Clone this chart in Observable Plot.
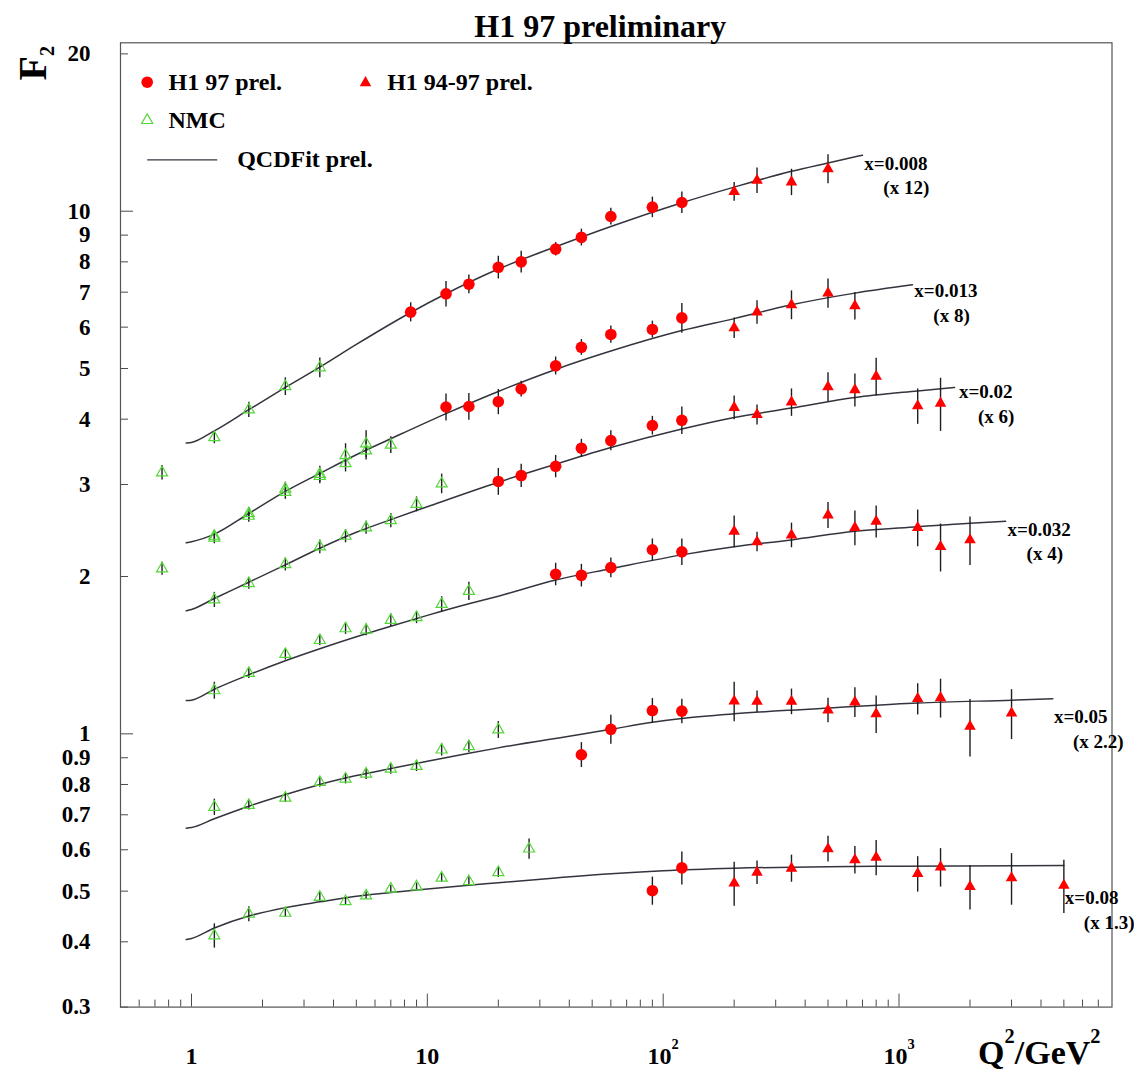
<!DOCTYPE html>
<html>
<head>
<meta charset="utf-8">
<script src="https://cdn.jsdelivr.net/npm/d3@7"></script>
<script src="https://cdn.jsdelivr.net/npm/@observablehq/plot@0.6"></script>
<style>
  html, body { margin: 0; padding: 0; background: #fff; }
  #chart { width: 1134px; height: 1071px; }
</style>
</head>
<body>
<div id="chart"></div>
<script>
// Bjorken-x bins and the factor each bin's F2 is multiplied by for display
const binX = ["0.008", "0.013", "0.02", "0.032", "0.05", "0.08"];
const binFactor = ["12", "8", "6", "4", "2.2", "1.3"];
// where each bin label sits (Q², scaled F2)
const labelQ2 = [706, 1150, 1777, 2858, 4492, 5000];
const labelF2 = [12.32, 7.03, 4.505, 2.457, 1.076, 0.4846];

// NMC (scaled F2, one list per bin)
const nmcQ2 = [
  [0.75, 1.25, 1.75, 2.5, 3.5],
  [0.75, 1.25, 1.25, 1.75, 1.75, 2.5, 2.5, 3.5, 3.5, 4.5, 4.5, 5.5, 5.5, 7],
  [1.25, 1.75, 2.5, 3.5, 4.5, 5.5, 7, 9, 11.5],
  [1.25, 1.75, 2.5, 3.5, 4.5, 5.5, 7, 9, 11.5, 15],
  [1.25, 1.75, 2.5, 3.5, 4.5, 5.5, 7, 9, 11.5, 15, 20],
  [1.25, 1.75, 2.5, 3.5, 4.5, 5.5, 7, 9, 11.5, 15, 20, 27]
];
const nmcF2 = [
  [3.16, 3.69, 4.17, 4.62, 5.02],
  [2.07, 2.39, 2.37, 2.64, 2.61, 2.94, 2.90, 3.14, 3.11, 3.41, 3.29, 3.59, 3.48, 3.57],
  [1.805, 1.94, 2.11, 2.28, 2.39, 2.48, 2.56, 2.75, 3.01],
  [1.21, 1.306, 1.42, 1.51, 1.59, 1.58, 1.65, 1.67, 1.77, 1.875],
  [0.724, 0.73, 0.754, 0.808, 0.82, 0.838, 0.857, 0.867, 0.932, 0.946, 1.018],
  [0.411, 0.452, 0.454, 0.487, 0.478, 0.49, 0.505, 0.51, 0.53, 0.522, 0.543, 0.6025]
];
const nmcErr = [
  [0.10, 0.10, 0.14, 0.18, 0.22],
  [0.06, 0.06, 0.06, 0.07, 0.07, 0.09, 0.09, 0.11, 0.10, 0.18, 0.12, 0.21, 0.14, 0.13],
  [0.06, 0.05, 0.06, 0.07, 0.07, 0.07, 0.08, 0.09, 0.13],
  [0.045, 0.03, 0.035, 0.035, 0.04, 0.04, 0.045, 0.045, 0.06, 0.075],
  [0.026, 0.015, 0.015, 0.018, 0.018, 0.02, 0.02, 0.02, 0.025, 0.025, 0.038],
  [0.022, 0.015, 0.008, 0.01, 0.008, 0.008, 0.008, 0.008, 0.01, 0.01, 0.012, 0.027]
];

// H1 97 prel.
const h197Q2 = [
  [8.5, 12, 15, 20, 25, 35, 45, 60, 90, 120],
  [12, 15, 20, 25, 35, 45, 60, 90, 120],
  [20, 25, 35, 45, 60, 90, 120],
  [35, 45, 60, 90, 120],
  [45, 60, 90, 120],
  [90, 120]
];
const h197F2 = [
  [6.41, 6.95, 7.25, 7.81, 8.00, 8.46, 8.91, 9.77, 10.18, 10.39],
  [4.22, 4.23, 4.32, 4.57, 5.06, 5.49, 5.81, 5.94, 6.25],
  [3.04, 3.12, 3.25, 3.52, 3.64, 3.89, 3.98],
  [2.02, 2.01, 2.08, 2.25, 2.23],
  [0.912, 1.02, 1.108, 1.105],
  [0.501, 0.554]
];
const h197Err = [
  [0.27, 0.39, 0.30, 0.39, 0.38, 0.25, 0.33, 0.36, 0.46, 0.49],
  [0.25, 0.25, 0.24, 0.16, 0.20, 0.19, 0.22, 0.22, 0.41],
  [0.18, 0.16, 0.16, 0.14, 0.16, 0.16, 0.24],
  [0.10, 0.10, 0.09, 0.11, 0.13],
  [0.05, 0.065, 0.06, 0.06],
  [0.031, 0.04]
];

// H1 94-97 prel.
const h194Q2 = [
  [200, 250, 350, 500],
  [200, 250, 350, 500, 650],
  [200, 250, 350, 500, 650, 800, 1200, 1500],
  [200, 250, 350, 500, 650, 800, 1200, 1500, 2000],
  [200, 250, 350, 500, 650, 800, 1200, 1500, 2000, 3000],
  [200, 250, 350, 500, 650, 800, 1200, 1500, 2000, 3000, 5000]
];
const h194F2 = [
  [10.9, 11.45, 11.37, 12.05],
  [5.98, 6.41, 6.62, 6.97, 6.59],
  [4.21, 4.08, 4.31, 4.61, 4.55, 4.83, 4.24, 4.29],
  [2.44, 2.33, 2.40, 2.62, 2.48, 2.55, 2.48, 2.28, 2.35],
  [1.155, 1.153, 1.153, 1.11, 1.15, 1.092, 1.167, 1.172, 1.033, 1.095],
  [0.518, 0.543, 0.553, 0.6025, 0.574, 0.58, 0.54, 0.556, 0.51, 0.53, 0.513]
];
const h194Err = [
  [0.45, 0.64, 0.66, 0.77],
  [0.27, 0.33, 0.42, 0.45, 0.40],
  [0.22, 0.18, 0.26, 0.30, 0.33, 0.40, 0.33, 0.50],
  [0.17, 0.10, 0.13, 0.15, 0.19, 0.18, 0.20, 0.24, 0.25],
  [0.10, 0.055, 0.065, 0.06, 0.075, 0.09, 0.08, 0.10, 0.13, 0.12],
  [0.05, 0.028, 0.033, 0.034, 0.035, 0.045, 0.042, 0.047, 0.05, 0.06, 0.06]
];

// QCD fit, sampled along Q² for each bin
const fitQ2 = [
  [0.95, 1.0, 1.25, 1.75, 2.5, 3.5, 5, 8.5, 12, 20, 35, 60, 120, 200, 350, 500, 700],
  [0.95, 1.0, 1.25, 1.75, 2.5, 3.5, 5, 7, 12, 20, 35, 60, 120, 200, 350, 650, 1140],
  [0.95, 1.0, 1.25, 1.75, 2.5, 3.5, 5, 7, 10, 20, 35, 60, 120, 200, 350, 650, 1200, 1720],
  [0.95, 1.0, 1.25, 1.75, 2.5, 3.5, 5, 7, 10, 15, 20, 35, 60, 120, 200, 350, 650, 1200, 2000, 2830],
  [0.95, 1.0, 1.25, 1.75, 2.5, 3.5, 5, 7, 10, 15, 20, 45, 60, 90, 120, 200, 350, 500, 1200, 3000, 4490],
  [0.95, 1.0, 1.25, 1.75, 2.5, 3.5, 5, 7, 10, 20, 35, 60, 100, 200, 500, 1000, 5000]
];
const fitF2 = [
  [3.60, 3.61, 3.80, 4.17, 4.60, 5.03, 5.56, 6.40, 6.95, 7.75, 8.55, 9.35, 10.38, 11.12, 11.92, 12.37, 12.80],
  [2.32, 2.33, 2.41, 2.64, 2.91, 3.15, 3.42, 3.67, 4.10, 4.52, 4.98, 5.40, 5.91, 6.23, 6.62, 6.97, 7.23],
  [1.72, 1.73, 1.815, 1.95, 2.105, 2.265, 2.43, 2.57, 2.72, 3.03, 3.28, 3.53, 3.83, 4.03, 4.20, 4.40, 4.53, 4.60],
  [1.158, 1.16, 1.217, 1.297, 1.38, 1.455, 1.534, 1.607, 1.685, 1.773, 1.834, 1.97, 2.07, 2.20, 2.28, 2.35, 2.44, 2.49, 2.53, 2.55],
  [0.66, 0.662, 0.688, 0.727, 0.765, 0.80, 0.832, 0.858, 0.886, 0.918, 0.94, 0.998, 1.02, 1.052, 1.07, 1.092, 1.11, 1.12, 1.145, 1.16, 1.167],
  [0.404, 0.406, 0.425, 0.448, 0.465, 0.477, 0.489, 0.497, 0.505, 0.519, 0.530, 0.540, 0.547, 0.553, 0.557, 0.558, 0.560]
];

// axis ticks
const xMajorTicks = [1, 10, 100, 1000];
const xMinorTicks = [0.6, 0.7, 0.8, 0.9, 2, 3, 4, 5, 6, 7, 8, 9, 20, 30, 40, 50, 60, 70, 80, 90,
  200, 300, 400, 500, 600, 700, 800, 900, 2000, 3000, 4000, 5000, 6000, 7000];
const yMajorTicks = [1, 10];
const yMinorTicks = [0.3, 0.4, 0.5, 0.6, 0.7, 0.8, 0.9, 2, 3, 4, 5, 6, 7, 8, 9, 20];
const yTickLabels = [0.3, 0.4, 0.5, 0.6, 0.7, 0.8, 0.9, 1, 2, 3, 4, 5, 6, 7, 8, 9, 10, 20];

// ---- layout and styling ----
const W = 1134, H = 1071;
const M = {top: 42.3, right: 22.5, bottom: 64.4, left: 120};
const frameW = W - M.left - M.right;
const frameH = H - M.top - M.bottom;
const red = "#ff0000";
const green = "#55d63b";
const ink = "#1e1e1e";
const fitColor = "#34343f";
const axisColor = "#4a4a4a";

const rows = (q2s, f2s, errs) =>
  q2s.flatMap((qs, b) => qs.map((q, i) => ({bin: binX[b], q2: q, f2: f2s[b][i], err: errs ? errs[b][i] : 0})));

const nmc = rows(nmcQ2, nmcF2, nmcErr);
const h197 = rows(h197Q2, h197F2, h197Err);
const h194 = rows(h194Q2, h194F2, h194Err);
const fit = rows(fitQ2, fitF2);
const labels = binX.map((x, i) => ({x, factor: binFactor[i], q2: labelQ2[i], f2: labelF2[i]}));

// horizontal stroke used as the fit's legend sample
const legendLine = {draw(ctx) { ctx.moveTo(-35, 0); ctx.lineTo(35, 0); }};

const errorBars = data => Plot.ruleX(data, {
  x: "q2", y1: d => d.f2 - d.err, y2: d => d.f2 + d.err, stroke: ink, strokeWidth: 1.4
});

const svg = Plot.plot({
  width: W,
  height: H,
  marginTop: M.top,
  marginRight: M.right,
  marginBottom: M.bottom,
  marginLeft: M.left,
  style: {
    fontFamily: "'Liberation Serif', 'Times New Roman', serif",
    fontWeight: "bold",
    color: "#000",
    background: "#fff",
    overflow: "visible"
  },
  x: {type: "log", domain: [0.5, 8000], label: null},
  y: {type: "log", domain: [0.3, 21], label: null},
  marks: [
    // inward ticks
    Plot.tickY(yMinorTicks, {y: d => d, insetRight: frameW - 8, stroke: axisColor}),
    Plot.tickY(yMajorTicks, {y: d => d, insetRight: frameW - 13, stroke: axisColor}),
    Plot.tickX(xMinorTicks, {x: d => d, insetTop: frameH - 7, stroke: axisColor}),
    Plot.tickX(xMajorTicks, {x: d => d, insetTop: frameH - 13, stroke: axisColor}),
    Plot.frame({stroke: "#555", strokeWidth: 1.2}),
    Plot.axisY(yTickLabels, {anchor: "left", tickSize: 0, tickPadding: 30, tickFormat: d => String(d), fontSize: 23, label: null}),
    Plot.axisX(xMajorTicks, {anchor: "bottom", tickSize: 0, tickPadding: 39.5,
      tickFormat: d => d < 100 ? String(d) : "10^" + Math.round(Math.log10(d)), fontSize: 24, label: null}),

    // QCD fit curves
    Plot.line(fit, {x: "q2", y: "f2", z: "bin", curve: "monotone-x", stroke: fitColor, strokeWidth: 1.5}),

    // error bars, then markers
    errorBars(nmc),
    errorBars(h197),
    errorBars(h194),
    Plot.dot(nmc, {x: "q2", y: "f2", symbol: "triangle", r: 4.1, stroke: green, fill: "none", strokeWidth: 1.2}),
    Plot.dot(h197, {x: "q2", y: "f2", symbol: "circle", r: 5.8, fill: red}),
    Plot.dot(h194, {x: "q2", y: "f2", symbol: "triangle", r: 4.3, fill: red}),

    // bin labels
    Plot.text(labels, {x: "q2", y: "f2", text: d => `x=${d.x}`, textAnchor: "start", lineAnchor: "middle", dx: 1, fontSize: 19}),
    Plot.text(labels, {x: "q2", y: "f2", text: d => `(x ${d.factor})`, textAnchor: "start", lineAnchor: "middle", dx: 20, dy: 24.5, fontSize: 19}),

    // legend
    Plot.dot([0], {frameAnchor: "top-left", dx: 26.7, dy: 39.4, symbol: "circle", r: 5.8, fill: red}),
    Plot.text(["H1 97 prel."], {frameAnchor: "top-left", dx: 48, dy: 39.3, text: d => d, textAnchor: "start", lineAnchor: "middle", fontSize: 24}),
    Plot.dot([0], {frameAnchor: "top-left", dx: 245, dy: 40, symbol: "triangle", r: 4.3, fill: red}),
    Plot.text(["H1 94-97 prel."], {frameAnchor: "top-left", dx: 266.7, dy: 39.3, text: d => d, textAnchor: "start", lineAnchor: "middle", fontSize: 24}),
    Plot.dot([0], {frameAnchor: "top-left", dx: 26.7, dy: 77.5, symbol: "triangle", r: 4.1, stroke: green, fill: "none", strokeWidth: 1.2}),
    Plot.text(["NMC"], {frameAnchor: "top-left", dx: 48, dy: 77.7, text: d => d, textAnchor: "start", lineAnchor: "middle", fontSize: 24}),
    Plot.dot([0], {frameAnchor: "top-left", dx: 61.7, dy: 117, symbol: legendLine, stroke: fitColor, fill: "none", strokeWidth: 1.3}),
    Plot.text(["QCDFit prel."], {frameAnchor: "top-left", dx: 116.7, dy: 116.7, text: d => d, textAnchor: "start", lineAnchor: "middle", fontSize: 24}),

    // titles
    Plot.text(["H1 97 preliminary"], {frameAnchor: "top", dx: -16, dy: -5.6, text: d => d, lineAnchor: "bottom", fontSize: 32}),
    Plot.text(["F_2"], {frameAnchor: "top-left", dx: -75, dy: 37.7, text: d => d, rotate: -90, textAnchor: "start", lineAnchor: "bottom", fontSize: 40}),
    Plot.text(["Q^2/GeV^2"], {frameAnchor: "bottom-right", dx: -11.5, dy: 56.5, text: d => d, textAnchor: "end", lineAnchor: "bottom", fontSize: 34})
  ]
});

document.getElementById("chart").appendChild(svg);

// turn "^x" / "_x" into raised or lowered smaller glyphs
const SVGNS = "http://www.w3.org/2000/svg";
function setRichText(el) {
  const s = el.textContent;
  if (!/[\^_]/.test(s) || el.querySelector("tspan")) return;
  const fs = parseFloat(getComputedStyle(el).fontSize) || 20;
  el.textContent = "";
  let shift = 0;
  for (const part of s.split(/([\^_].)/)) {
    if (!part) continue;
    const t = document.createElementNS(SVGNS, "tspan");
    let target = 0;
    if (part[0] === "^") {
      target = -0.62 * fs;
      t.setAttribute("font-size", (0.6 * fs).toFixed(1));
      t.textContent = part.slice(1);
    } else if (part[0] === "_") {
      target = 0.2 * fs;
      t.setAttribute("font-size", (0.5 * fs).toFixed(1));
      t.textContent = part.slice(1);
    } else {
      t.textContent = part;
    }
    if (target !== shift) {
      t.setAttribute("dy", (target - shift).toFixed(1));
      shift = target;
    }
    el.appendChild(t);
  }
}
svg.querySelectorAll("text").forEach(setRichText);
</script>
</body>
</html>
